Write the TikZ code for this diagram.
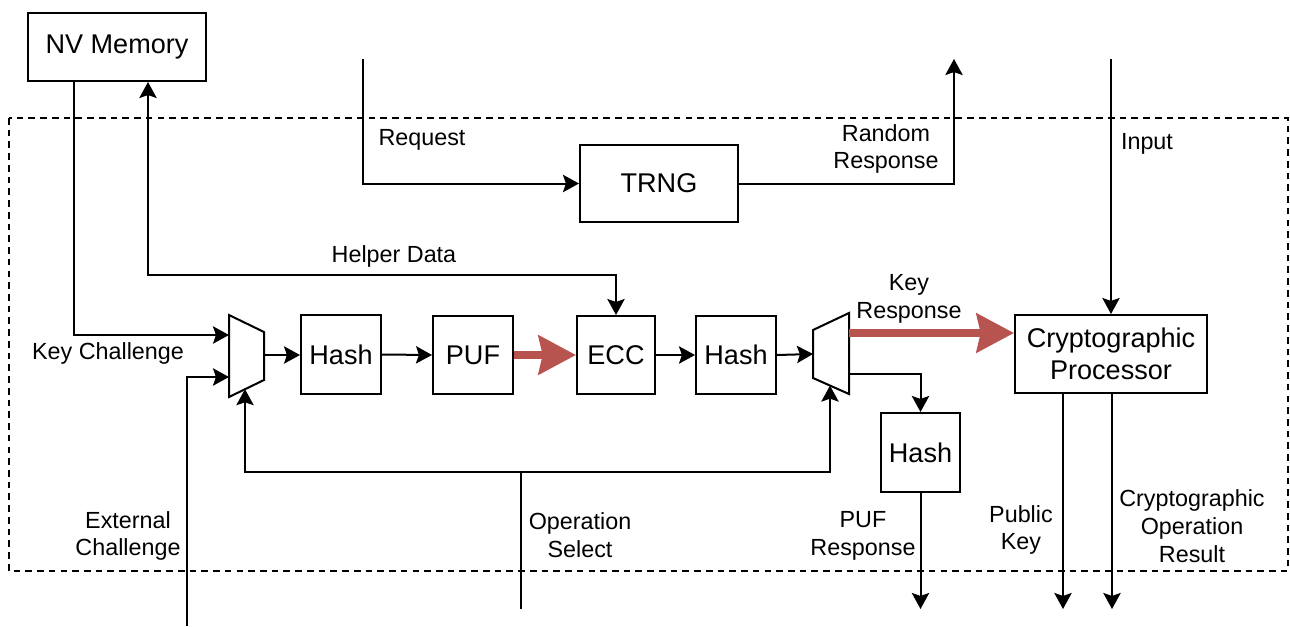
\documentclass[tikz,border=0pt]{standalone}
\usepackage{fontspec}
\setmainfont{Liberation Sans}
\usetikzlibrary{arrows.meta,calc}

\definecolor{keyred}{HTML}{B85450}

\tikzset{
  wire/.style={line width=1.5pt},
  arr/.style={wire, -{Stealth[length=12pt,width=13pt,inset=2.2pt]}},
  biarr/.style={wire, {Stealth[length=12pt,width=13pt,inset=2.2pt]}-{Stealth[length=12pt,width=13pt,inset=2.2pt]}},
  keyarr/.style={line width=6pt, draw=keyred, -{Stealth[length=28pt,width=29pt,inset=3pt]}},
  blk/.style={draw, line width=1.5pt, inner sep=0pt, align=center,
              font=\fontsize{20.3}{24}\selectfont},
  lbl/.style={inner sep=0pt, align=center, font=\fontsize{17.5}{20.8}\selectfont},
  muxshape/.style={wire, fill=white},
  border/.style={line width=1.3pt, dash pattern=on 5pt off 3.8pt}
}

\begin{document}
\begin{tikzpicture}[x=0.75pt,y=-0.75pt]
  \useasboundingbox (0,0) rectangle (1290,626);

  % chip boundary
  \draw[border] (9,118) rectangle (1288,571);

  % blocks
  \node[blk, minimum width=133.5pt, minimum height=51pt]    (nv)     at (117,47)     {NV Memory};
  \node[blk, minimum width=118.5pt, minimum height=57.75pt] (trng)   at (659,183.5)  {TRNG};
  \node[blk, minimum width=60pt,    minimum height=59.25pt] (hashA)  at (341,354.5)  {Hash};
  \node[blk, minimum width=60pt,    minimum height=58.5pt]  (puf)    at (473,355)    {PUF};
  \node[blk, minimum width=58.5pt,  minimum height=58.5pt]  (ecc)    at (616,355)    {ECC};
  \node[blk, minimum width=60pt,    minimum height=58.5pt]  (hashB)  at (736,355)    {Hash};
  \node[blk, minimum width=144pt,   minimum height=58.5pt]  (crypto) at (1111,354)   {Cryptographic\\Processor};
  \node[blk, minimum width=59.25pt, minimum height=59.25pt] (hashC)  at (920.5,452.5) {Hash};

  % multiplexers
  \coordinate (m1a) at (229,315);
  \coordinate (m1b) at (264,332);
  \coordinate (m1c) at (264,380);
  \coordinate (m1d) at (229,397);
  \draw[muxshape] (m1a) -- (m1b) -- (m1c) -- (m1d) -- cycle;
  \coordinate (m1in1) at (229,335);
  \coordinate (m1in2) at (229,377);
  \coordinate (m1out) at (264,355);
  \coordinate (m1sel) at (245,389.2);

  \coordinate (m2a) at (813,330);
  \coordinate (m2b) at (849,313);
  \coordinate (m2c) at (849,394);
  \coordinate (m2d) at (813,378);
  \draw[muxshape] (m2a) -- (m2b) -- (m2c) -- (m2d) -- cycle;
  \coordinate (m2in)  at (813,354);
  \coordinate (m2outk) at (849,333);
  \coordinate (m2outp) at (849,374);
  \coordinate (m2sel) at (830,385.6);

  % free ends of external signals
  \coordinate (reqsrc) at (363,59);
  \coordinate (rndout) at (954,59);
  \coordinate (insrc)  at (1111,59);
  \coordinate (extsrc) at (187,626);
  \coordinate (opsrc)  at (521,609);
  \coordinate (opbus)  at (521,472);
  \coordinate (hdbend) at (148,275);
  \coordinate (kcline) at (74,0);
  \coordinate (pufout) at (920.5,609);
  \coordinate (pkout)  at (1063,609);
  \coordinate (resout) at (1112,609);

  % TRNG path
  \draw[arr] (reqsrc) |- (trng.west);
  \draw[arr] (trng.east) -| (rndout);

  % cryptographic processor input
  \draw[arr] (insrc) -- (insrc |- crypto.north);

  % challenges into the first multiplexer
  \draw[arr] (kcline |- nv.south) |- (m1in1);
  \draw[arr] (extsrc) |- (m1in2);

  % helper data between NV memory and ECC
  \draw[biarr] (hdbend |- nv.south) -- (hdbend) -| (ecc.north);

  % operation select
  \draw[wire] (opsrc) -- (opbus);
  \draw[arr] (opbus) -| (m1sel);
  \draw[arr] (opbus) -| (m2sel);

  % main datapath
  \draw[arr] (m1out) -- (m1out -| hashA.west);
  \draw[arr] (hashA.east) -- (puf.west);
  \draw[keyarr] (puf.east) -- (ecc.west);
  \draw[arr] (ecc.east) -- (hashB.west);
  \draw[arr] (hashB.east) -- (m2in);
  \draw[keyarr] (m2outk) -- (m2outk -| crypto.west);
  \draw[arr] (m2outp) -| (hashC.north);

  % outputs
  \draw[arr] (hashC.south) -- (pufout);
  \draw[arr] (pkout |- crypto.south) -- (pkout);
  \draw[arr] (resout |- crypto.south) -- (resout);

  % labels
  \node[lbl] (lreq)  at (422,140)  {Request};
  \node[lbl] (lrnd)  at (886,149)  {Random\\Response};
  \node[lbl] (linp)  at (1147,144) {Input};
  \node[lbl] (lhd)   at (394,256)  {Helper Data};
  \node[lbl] (lkc)   at (108,353)  {Key Challenge};
  \node[lbl] (lext)  at (128,536)  {External\\Challenge};
  \node[lbl] (lop)   at (580,535)  {Operation\\Select};
  \node[lbl] (lkr)   at (909,299)  {Key\\Response};
  \node[lbl] (lpufr) at (863,536)  {PUF\\Response};
  \node[lbl] (lpk)   at (1021,530) {Public\\Key};
  \node[lbl] (lres)  at (1192,526) {Cryptographic\\Operation\\Result};
\end{tikzpicture}
\end{document}
